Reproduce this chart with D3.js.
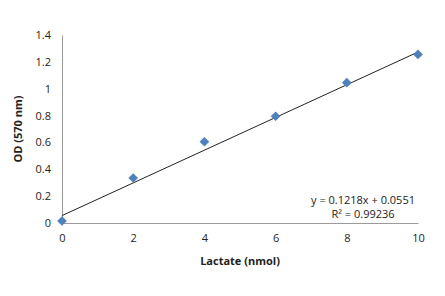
<!DOCTYPE html>
<html lang="en">
<head>
<meta charset="UTF-8">
<title>Lactate standard curve</title>
<style>
  body { margin: 0; background: #fff; }
  text { font-family: "Open Sans", "Liberation Sans", sans-serif; fill: #222; }
</style>
</head>
<body>
<svg></svg>
<script src="https://d3js.org/d3.v7.min.js"></script>
<script>
// data
var lactate = [0, 2, 4, 6, 8, 10];
var od = [0.015, 0.335, 0.605, 0.795, 1.045, 1.255];
var xTicks = [0, 2, 4, 6, 8, 10];
var yTicks = [0, 0.2, 0.4, 0.6, 0.8, 1, 1.2, 1.4];
var slope = 0.1218, intercept = 0.0551;
var eqLines = ["y = 0.1218x + 0.0551", "R\u00b2 = 0.99236"];

var width = 445, height = 296;
var marge = {top: 35, right: 27, bottom: 73, left: 62};

var svg = d3.select("svg").attr("width", width).attr("height", height);

var x = d3.scaleLinear().domain([0, 10]).range([marge.left, width - marge.right]);
var y = d3.scaleLinear().domain([0, 1.4]).range([height - marge.bottom, marge.top]);

// axes
var xAxis = svg.append("g")
  .attr("transform", "translate(0," + y(0) + ")")
  .call(d3.axisBottom(x).tickValues(xTicks).tickSize(0).tickPadding(11).tickFormat(d3.format("")));
var yAxis = svg.append("g")
  .attr("transform", "translate(" + x(0) + ",0)")
  .call(d3.axisLeft(y).tickValues(yTicks).tickSize(0).tickPadding(11).tickFormat(d3.format("")));
[xAxis, yAxis].forEach(function(a) {
  a.select(".domain").attr("stroke", "#9a9a9a").attr("stroke-width", 1);
  a.selectAll("text").attr("font-size", "11px").attr("fill", "#333");
});

// trendline
svg.append("line")
  .attr("x1", x(0)).attr("y1", y(intercept))
  .attr("x2", x(10)).attr("y2", y(slope * 10 + intercept))
  .attr("stroke", "#222").attr("stroke-width", 1);

// points
svg.append("g").selectAll("path")
  .data(lactate)
  .enter()
  .append("path")
  .attr("d", d3.symbol().type(d3.symbolDiamond2).size(60))
  .attr("transform", function(d, i) { return "translate(" + x(d) + "," + y(od[i]) + ")"; })
  .attr("fill", "#4f81bd");

// equation
svg.append("g").selectAll("text")
  .data(eqLines)
  .enter()
  .append("text")
  .attr("x", 363).attr("y", function(d, i) { return 204 + i * 14; })
  .attr("text-anchor", "middle")
  .attr("font-size", "11px")
  .text(function(d) { return d; });

// axis titles
svg.append("text")
  .attr("x", x(5)).attr("y", 265)
  .attr("text-anchor", "middle")
  .attr("font-size", "11px").attr("font-weight", "bold")
  .text("Lactate (nmol)");
svg.append("text")
  .attr("transform", "translate(22," + y(0.7) + ") rotate(-90)")
  .attr("text-anchor", "middle")
  .attr("font-size", "11px").attr("font-weight", "bold")
  .text("OD (570 nm)");
</script>
</body>
</html>
